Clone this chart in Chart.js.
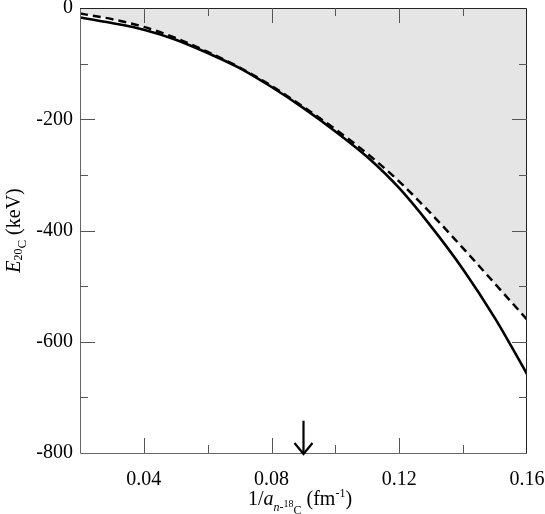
<!DOCTYPE html>
<html>
<head>
<meta charset="utf-8">
<script src="https://cdn.jsdelivr.net/npm/chart.js@4/dist/chart.umd.min.js"></script>
<style>
html,body{margin:0;padding:0;background:#fff;}
#c{display:block;}
</style>
</head>
<body>
<canvas id="c" width="545" height="514"></canvas>
<script>
// ---- data ----
const xValues = [0.02, 0.03, 0.04, 0.05, 0.06, 0.07, 0.08, 0.09, 0.10, 0.11, 0.12, 0.13, 0.14, 0.15, 0.16];
const solidE  = [-17, -27, -39, -57, -81, -108, -142, -180, -222, -268, -324, -393, -470, -558, -658];
const dashedE = [-10, -20, -34, -54, -79, -107, -140, -178, -218, -262, -312, -370, -432, -496, -560];
const xTicks = [0.04, 0.08, 0.12, 0.16];
const xMinorTicks = [0.06, 0.10, 0.14];
const yTicks = [-800, -600, -400, -200, 0];
const yMinorTicks = [-700, -500, -300, -100];
const arrowX = 0.09;
const arrowFrom = -742;
const arrowTo = -800;

const serif = "'Liberation Serif', 'DejaVu Serif', serif";

function drawRich(ctx, segs, x, y, align) {
  let total = 0;
  segs.forEach(s => { ctx.font = (s.italic ? 'italic ' : '') + s.size + 'px ' + serif; s.w = ctx.measureText(s.t).width; total += s.w; });
  let cx = align === 'center' ? x - total / 2 : x;
  segs.forEach(s => {
    ctx.font = (s.italic ? 'italic ' : '') + s.size + 'px ' + serif;
    ctx.fillText(s.t, cx, y + (s.dy || 0));
    cx += s.w;
  });
}

const framePlugin = {
  id: 'frame',
  afterDraw(chart) {
    const ctx = chart.ctx;
    const xs = chart.scales.x, ys = chart.scales.y;
    const a = chart.chartArea;
    ctx.save();
    ctx.lineWidth = 1;
    ctx.strokeStyle = '#666';
    ctx.beginPath();
    ctx.moveTo(a.left + 0.5, a.top); ctx.lineTo(a.left + 0.5, a.bottom + 0.5); ctx.lineTo(a.right, a.bottom + 0.5);
    ctx.stroke();
    ctx.strokeStyle = '#222';
    ctx.beginPath();
    ctx.moveTo(a.left, a.top + 0.5); ctx.lineTo(a.right - 0.5, a.top + 0.5); ctx.lineTo(a.right - 0.5, a.bottom);
    ctx.stroke();
    ctx.strokeStyle = '#555';
    const tk = (vals, len) => {
      vals.forEach(v => {
        const px = Math.round(xs.getPixelForValue(v)) + 0.5;
        ctx.beginPath(); ctx.moveTo(px, a.bottom); ctx.lineTo(px, a.bottom - len); ctx.stroke();
        ctx.beginPath(); ctx.moveTo(px, a.top); ctx.lineTo(px, a.top + len); ctx.stroke();
      });
    };
    const tky = (vals, len) => {
      vals.forEach(v => {
        const py = Math.round(ys.getPixelForValue(v)) + 0.5;
        ctx.beginPath(); ctx.moveTo(a.left, py); ctx.lineTo(a.left + len, py); ctx.stroke();
        ctx.beginPath(); ctx.moveTo(a.right, py); ctx.lineTo(a.right - len, py); ctx.stroke();
      });
    };
    tk(xTicks.filter(v => v < 0.16), 15); tk(xMinorTicks, 8);
    tky(yTicks.filter(v => v > -800 && v < 0), 15); tky(yMinorTicks, 8);
    // arrow
    const ax = xs.getPixelForValue(arrowX);
    const y1 = ys.getPixelForValue(arrowFrom), y2 = ys.getPixelForValue(arrowTo) + 1;
    ctx.strokeStyle = '#000';
    ctx.lineWidth = 2.2;
    ctx.beginPath(); ctx.moveTo(ax, y1); ctx.lineTo(ax, y2); ctx.stroke();
    ctx.beginPath(); ctx.moveTo(ax - 9, y2 - 11); ctx.lineTo(ax, y2); ctx.lineTo(ax + 9, y2 - 11); ctx.stroke();
    // axis titles
    ctx.fillStyle = '#000';
    ctx.textBaseline = 'alphabetic';
    drawRich(ctx, [
      {t: '1/', size: 20},
      {t: 'a', size: 20, italic: true},
      {t: 'n', size: 12, italic: true, dy: 6},
      {t: '-', size: 12, dy: 6},
      {t: '18', size: 10, dy: 2},
      {t: 'C', size: 12, dy: 9},
      {t: ' (fm', size: 20},
      {t: '-1', size: 12, dy: -8},
      {t: ')', size: 20}
    ], 300, 505, 'center');
    ctx.translate(20, (a.top + a.bottom) / 2);
    ctx.rotate(-Math.PI / 2);
    drawRich(ctx, [
      {t: 'E', size: 20, italic: true},
      {t: '20', size: 12, dy: 2},
      {t: 'C', size: 13, dy: 6},
      {t: ' (keV)', size: 20}
    ], 0, 0, 'center');
    ctx.restore();
  }
};

new Chart(document.getElementById('c'), {
  type: 'line',
  data: {
    datasets: [
      {
        label: 'solid',
        data: xValues.map((x, i) => ({x: x, y: solidE[i]})),
        borderColor: '#000',
        borderWidth: 2.6,
        pointRadius: 0,
        cubicInterpolationMode: 'monotone',
        fill: false
      },
      {
        label: 'dashed',
        data: xValues.map((x, i) => ({x: x, y: dashedE[i]})),
        borderColor: '#000',
        borderWidth: 2.5,
        borderDash: [8, 5],
        pointRadius: 0,
        cubicInterpolationMode: 'monotone',
        fill: 'end',
        backgroundColor: '#e5e5e5'
      }
    ]
  },
  options: {
    responsive: false,
    devicePixelRatio: 1,
    animation: false,
    layout: {padding: {top: 8, right: 18, left: 0, bottom: 0}},
    plugins: {
      legend: {display: false},
      tooltip: {enabled: false},
      filler: {drawTime: 'beforeDatasetsDraw'}
    },
    scales: {
      x: {
        type: 'linear',
        min: 0.02, max: 0.16,
        grid: {display: false, drawTicks: false},
        border: {display: false},
        afterBuildTicks: s => { s.ticks = xTicks.map(v => ({value: v})); },
        afterFit: s => { s.height = 61; s.paddingLeft = 0; s.paddingRight = 0; },
        ticks: {
          color: '#000',
          padding: 15,
          maxRotation: 0,
          font: {family: serif, size: 20},
          callback: v => Number(v).toFixed(2)
        }
      },
      y: {
        type: 'linear',
        min: -800, max: 0,
        grid: {display: false, drawTicks: false},
        border: {display: false},
        afterBuildTicks: s => { s.ticks = yTicks.map(v => ({value: v})); },
        afterFit: s => { s.width = 80; s.paddingTop = 0; s.paddingBottom = 0; },
        ticks: {
          color: '#000',
          padding: 7,
          font: {family: serif, size: 20},
          callback: v => String(v)
        }
      }
    }
  },
  plugins: [framePlugin]
});
</script>
</body>
</html>
